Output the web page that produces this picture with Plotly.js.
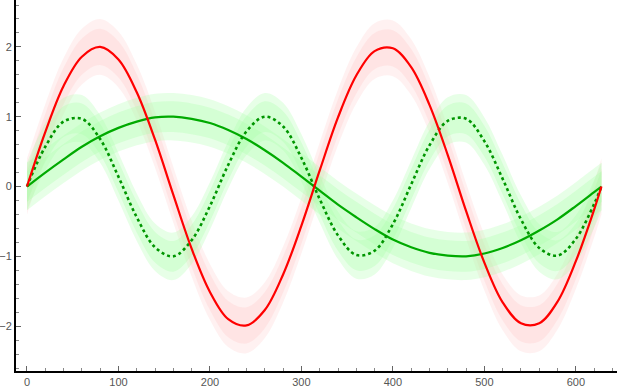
<!DOCTYPE html>
<html>
<head>
<meta charset="utf-8">
<script src="https://cdn.plot.ly/plotly-3.0.1.min.js"></script>
<style>html,body{margin:0;padding:0;background:#fff;}#chart{width:617px;height:388px;}</style>
</head>
<body>
<div id="chart"></div>
<script>
// sample positions (x)
var xs = [0,20,40,60,80,100,120,140,160,180,200,220,240,260,280,300,320,340,360,380,400,420,440,460,480,500,520,540,560,580,600,620,628];
// red solid curve
var redVals = [0,0.78,1.44,1.86,2.00,1.82,1.35,0.67,-0.12,-0.89,-1.51,-1.90,-1.99,-1.77,-1.26,-0.56,0.23,0.99,1.59,1.94,1.98,1.71,1.17,0.45,-0.35,-1.09,-1.66,-1.96,-1.96,-1.65,-1.07,-0.33,0];
// green solid curve
var greenVals = [0,0.20,0.39,0.57,0.72,0.84,0.93,0.99,1.00,0.97,0.91,0.81,0.68,0.52,0.34,0.14,-0.06,-0.26,-0.44,-0.61,-0.76,-0.87,-0.95,-0.99,-1.00,-0.96,-0.88,-0.77,-0.63,-0.47,-0.28,-0.08,0];
// green dashed curve
var dashVals = [0,0.57,0.93,0.97,0.68,0.14,-0.44,-0.87,-1.00,-0.77,-0.28,0.31,0.79,1.00,0.86,0.41,-0.18,-0.70,-0.98,-0.92,-0.54,0.03,0.59,0.94,0.97,0.65,0.11,-0.47,-0.88,-0.99,-0.75,-0.25,0];
// noise half-widths of the noisy bands
var redNoiseOuter = 0.40, redNoiseInner = 0.26;
var greenNoiseOuter = 0.34, greenNoiseInner = 0.22;
// tick labels
var xTicks = [0,100,200,300,400,500,600];
var yTicks = [-2,-1,0,1,2];
var yTickText = ['\u22122','\u22121','0','1','2'];

function shift(arr, d){ return arr.map(function(v){ return v + d; }); }
function band(vals, w, color){
  return [
    {x: xs, y: shift(vals, -w), mode:'lines', line:{width:0, shape:'spline', color:color}, hoverinfo:'skip', showlegend:false},
    {x: xs, y: shift(vals, w), mode:'lines', line:{width:0, shape:'spline', color:color}, fill:'tonexty', fillcolor:color, hoverinfo:'skip', showlegend:false}
  ];
}

var traces = [];
traces = traces.concat(band(redVals, redNoiseOuter, 'rgba(255,215,215,0.35)'));
traces = traces.concat(band(redVals, redNoiseInner, 'rgba(255,210,210,0.40)'));
traces = traces.concat(band(greenVals, greenNoiseOuter, 'rgba(170,255,170,0.28)'));
traces = traces.concat(band(greenVals, greenNoiseInner, 'rgba(170,255,170,0.32)'));
traces = traces.concat(band(dashVals, greenNoiseOuter, 'rgba(170,255,170,0.28)'));
traces = traces.concat(band(dashVals, greenNoiseInner, 'rgba(170,255,170,0.32)'));
traces.push({x: xs, y: greenVals, mode:'lines', line:{color:'rgb(0,170,0)', width:2.2, shape:'spline'}, showlegend:false});
traces.push({x: xs, y: dashVals, mode:'lines', line:{color:'rgb(0,150,0)', width:2.6, shape:'spline', dash:'dot'}, showlegend:false});
traces.push({x: xs, y: redVals, mode:'lines', line:{color:'rgb(255,0,0)', width:2.2, shape:'spline'}, showlegend:false});

var tickFont = {family:'Liberation Sans, Arial, sans-serif', size:11, color:'#555'};
var layout = {
  width:617, height:388,
  margin:{l:16, r:0, t:0, b:17, pad:0},
  paper_bgcolor:'#fff', plot_bgcolor:'#fff',
  showlegend:false,
  xaxis:{range:[-12,645], showgrid:false, zeroline:false, showline:true, linecolor:'#000', linewidth:2,
    ticks:'inside', ticklen:5, tickwidth:1, tickcolor:'#666', tickvals:xTicks, ticktext:xTicks.map(String), tickfont:tickFont,
    minor:{dtick:20, ticks:'inside', ticklen:3, tickcolor:'#888', showgrid:false}, automargin:false},
  yaxis:{range:[-2.643,2.672], showgrid:false, zeroline:false, showline:true, linecolor:'#000', linewidth:2,
    ticks:'inside', ticklen:5, tickwidth:1, tickcolor:'#666', tickvals:yTicks, ticktext:yTickText, tickfont:tickFont,
    minor:{dtick:0.2, ticks:'inside', ticklen:3, tickcolor:'#888', showgrid:false}, automargin:false}
};
Plotly.newPlot('chart', traces, layout, {displayModeBar:false, staticPlot:true});
</script>
</body>
</html>
